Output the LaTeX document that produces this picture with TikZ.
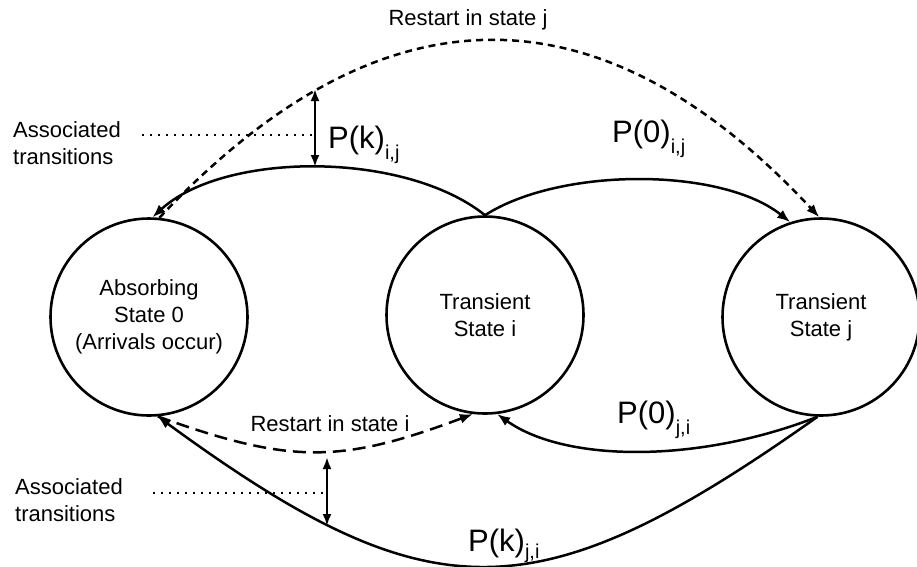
\documentclass[tikz,border=0pt]{standalone}
\usepackage{fontspec}
\setmainfont{Liberation Sans}
\usetikzlibrary{arrows.meta}
\begin{document}
\begin{tikzpicture}[x=1pt,y=-1pt,
  state/.style={draw, circle, line width=2.6pt, minimum size=197pt, inner sep=0pt,
    align=center, font=\fontsize{22}{27}\selectfont},
  trans/.style={line width=2.5pt, -{Latex[length=13pt,width=10pt]}},
  restart/.style={trans, dash pattern=on 7pt off 5pt},
  restartlow/.style={trans, dash pattern=on 13pt off 7pt},
  assoc/.style={line width=2.3pt, {Latex[length=12pt,width=9pt]}-{Latex[length=12pt,width=9pt]}},
  leader/.style={line width=1.6pt, dash pattern=on 1.5pt off 6.5pt},
  note/.style={font=\fontsize{22}{27}\selectfont, align=left, inner sep=0pt},
  prob/.style={font=\fontsize{31}{31}\selectfont, inner sep=0pt, anchor=base west},
  small/.style={font=\fontsize{22}{22}\selectfont, inner sep=0pt}
]
\useasboundingbox (0,0) rectangle (917,566);

% states
\node[state] (s0) at (149,317) {Absorbing\\State 0\\(Arrivals occur)};
\node[state] (si) at (485,315) {Transient\\State i};
\node[state] (sj) at (821,317) {Transient\\State j};

% transitions above the states
\draw[trans] (si.90) .. controls (405,151) and (225,151) .. (s0.88);
\draw[trans] (si.90) .. controls (560,167) and (721,167) .. (sj.108);
\draw[restart] (s0.84) .. controls (381,-18) and (600,-18) .. (sj.91);

% transitions below the states
\draw[restartlow] (s0.-85) .. controls (290,464) and (340,464) .. (si.-97);
\draw[trans] (sj.-92) .. controls (700,463) and (566,463) .. (si.-83);
\draw[trans] (sj.-92) .. controls (536,616) and (431,616) .. (s0.-85);

% labels
\node[small] (lj) at (468,20) {Restart in state j};
\node[small] (li) at (330,424) {Restart in state i};
\node[prob] (pkij) at (328,148) {P(k)\raisebox{-0.38em}{\fontsize{20}{20}\selectfont i,j}};
\node[prob] (p0ij) at (612,142) {P(0)\raisebox{-0.38em}{\fontsize{20}{20}\selectfont i,j}};
\node[prob] (p0ji) at (617,423) {P(0)\raisebox{-0.38em}{\fontsize{20}{20}\selectfont j,i}};
\node[prob] (pkji) at (468,551) {P(k)\raisebox{-0.25em}{\fontsize{20}{20}\selectfont j,i}};

% associated transitions, upper pair
\node[note, anchor=west] (at1) at (13,143) {Associated\\transitions};
\coordinate (ua) at (315,89);
\coordinate (ub) at (315,167);
\coordinate (ud) at (142,135);
\coordinate (ue) at (313,135);
\draw[assoc] (ua) -- (ub);
\draw[leader] (ud) -- (ue);

% associated transitions, lower pair
\node[note, anchor=west] (at2) at (15,500) {Associated\\transitions};
\coordinate (la) at (327,457);
\coordinate (lb) at (327,526);
\coordinate (ld) at (153,493);
\coordinate (le) at (325,493);
\draw[assoc] (la) -- (lb);
\draw[leader] (ld) -- (le);
\end{tikzpicture}
\end{document}
